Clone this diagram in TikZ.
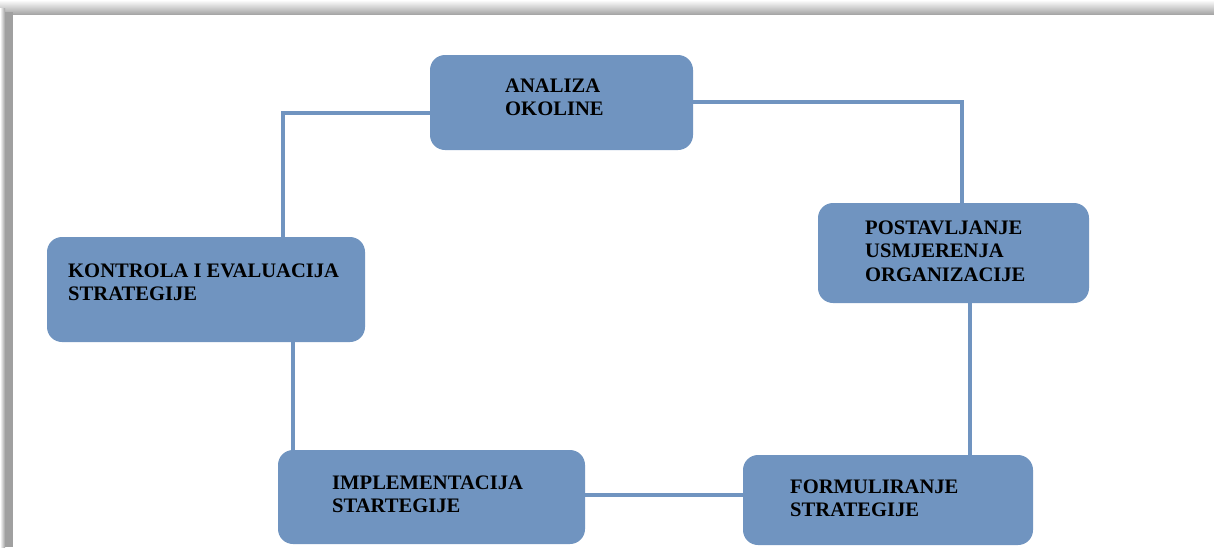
\documentclass[tikz,border=0pt]{standalone}
\usepackage{fontspec}
\setmainfont{Liberation Serif}
\definecolor{boxblue}{RGB}{112,148,192}
\definecolor{shadowgray}{RGB}{160,160,160}
\begin{document}
\begin{tikzpicture}[x=1pt,y=-1pt,
  box/.style={fill=boxblue, rounded corners=15pt, inner sep=0pt},
  lbl/.style={anchor=north west, inner sep=0pt, align=left,
    font=\fontsize{20.6}{23.5}\selectfont\bfseries},
  conn/.style={draw=boxblue, line width=4pt}]
\useasboundingbox (0,0) rectangle (1214,547);
% page shadow frame
\fill[white] (0,0) rectangle (1214,547);
\shade[top color=white, bottom color=shadowgray] (0,0) rectangle (1214,15);
\shade[left color=white, right color=shadowgray] (0,8) rectangle (5,547);
\fill[shadowgray] (5,12) rectangle (13,547);
\fill[white] (13,15) rectangle (1214,547);
% boxes
\node[box, minimum width=263pt, minimum height=95pt]  (a) at (561.5,102.5) {};
\node[box, minimum width=271pt, minimum height=100pt] (p) at (953.5,253) {};
\node[box, minimum width=290pt, minimum height=90pt]  (f) at (888,500) {};
\node[box, minimum width=307pt, minimum height=94pt]  (i) at (431.5,497) {};
\node[box, minimum width=318pt, minimum height=105pt] (k) at (206,289.5) {};
% labels
\node[lbl] (at) at (505,78.5) {ANALIZA\\OKOLINE};
\node[lbl] (pt) at (865,220.5) {POSTAVLJANJE\\USMJERENJA\\ORGANIZACIJE};
\node[lbl] (kt) at (68,263.5) {KONTROLA I EVALUACIJA\\STRATEGIJE};
\node[lbl] (it) at (332,475.5) {IMPLEMENTACIJA\\STARTEGIJE};
\node[lbl] (ft) at (790,479.5) {FORMULIRANJE\\STRATEGIJE};
% connectors
\draw[conn] (a.west |- 0,113) -| (k.north -| 283,0);
\draw[conn] (a.east |- 0,102) -| (p.north -| 962,0);
\draw[conn] (p.south -| 970,0) -- (f.north -| 970,0);
\draw[conn] (i.east |- 0,495) -- (f.west |- 0,495);
\draw[conn] (i.north -| 293,0) -- (k.south -| 293,0);
\end{tikzpicture}
\end{document}
